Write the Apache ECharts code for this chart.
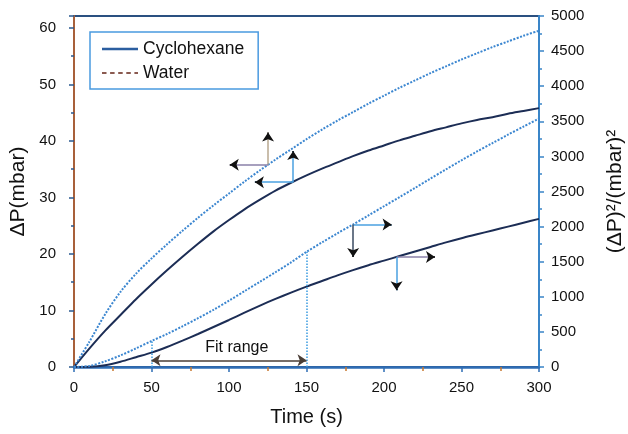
<!DOCTYPE html>
<html>
<head>
<meta charset="utf-8">
<script src="https://cdn.jsdelivr.net/npm/echarts@6/dist/echarts.min.js"></script>
<style>html,body{margin:0;padding:0;background:#fff;}#c{width:628px;height:434px;}</style>
</head>
<body>
<div id="c"></div>
<script>
// ---- data ----
const times      = [0, 10, 20, 30, 40, 50, 60, 70, 80, 90, 100, 110, 120, 130, 140, 150, 160, 170, 180, 190, 200, 210, 220, 230, 240, 250, 260, 270, 280, 290, 300];
const cycloDP    = [0, 3.3, 6.4, 9.2, 12.0, 14.6, 17.1, 19.5, 21.8, 24.0, 26.0, 27.9, 29.6, 31.2, 32.6, 33.9, 35.1, 36.2, 37.3, 38.3, 39.2, 40.1, 40.9, 41.7, 42.4, 43.1, 43.7, 44.2, 44.8, 45.3, 45.8];
const waterDP    = [0, 4.5, 9.3, 13.3, 16.5, 19.2, 21.7, 24.1, 26.4, 28.6, 30.7, 32.8, 34.8, 36.7, 38.5, 40.3, 42.0, 43.6, 45.1, 46.6, 48.0, 49.4, 50.7, 52.0, 53.2, 54.4, 55.5, 56.6, 57.6, 58.6, 59.5];
const cycloDP2   = [0, 3, 25, 75, 140, 205, 285, 375, 470, 570, 670, 775, 875, 970, 1060, 1145, 1225, 1305, 1380, 1450, 1515, 1580, 1645, 1710, 1775, 1835, 1890, 1945, 2000, 2055, 2110];
const waterDP2   = [0, 15, 80, 165, 265, 370, 470, 580, 695, 815, 945, 1080, 1215, 1350, 1490, 1640, 1775, 1905, 2030, 2160, 2290, 2420, 2550, 2685, 2815, 2945, 3070, 3190, 3310, 3425, 3540];
const xTicks     = [0, 50, 100, 150, 200, 250, 300];
const leftTicks  = [0, 10, 20, 30, 40, 50, 60];
const rightTicks = [0, 500, 1000, 1500, 2000, 2500, 3000, 3500, 4000, 4500, 5000];
const fitRange   = [50, 150];
// annotation arrows in data coordinates: [junction, end1, end2]
const arrowWaterDP  = [[125.2, 35.8], [125.2, 41.5], [100.5, 35.8]];
const arrowCycloDP  = [[141.4, 32.7], [141.4, 38.2], [116.7, 32.7]];
const arrowWaterDP2 = [[180.1, 2030], [204.9, 2030], [180.1, 1567]];
const arrowCycloDP2 = [[208.1, 1568], [232.9, 1568], [208.1, 1093]];

const zip = (a, b) => a.map((t, i) => [t, b[i]]);
const valAt = (arr, t) => arr[times.indexOf(t)];

function arrow(from, to, color) {
  const near = [to[0] - 0.04 * (to[0] - from[0]), to[1] - 0.04 * (to[1] - from[1])];
  return [
    [{coord: from, symbol: 'none', lineStyle: {color: color, width: 1.5, type: 'solid'}}, {coord: to, symbol: 'none'}],
    [{coord: near, symbol: 'none', lineStyle: {color: '#111', width: 1.5, type: 'solid'}}, {coord: to, symbol: 'arrow'}]
  ];
}
function arrowSet(a, c1, c2) {
  return arrow(a[0], a[1], c1).concat(arrow(a[0], a[2], c2));
}
const mlBase = {silent: true, animation: false, symbol: ['none', 'none'], symbolSize: 9, label: {show: false}, emphasis: {disabled: true}};

const FONT = '"Liberation Sans", Arial, sans-serif';
const navy = '#1c2d55', dotBlue = '#3b86d0';

const chart = echarts.init(document.getElementById('c'), null, {renderer: 'canvas'});
chart.setOption({
  animation: false,
  backgroundColor: '#fff',
  textStyle: {fontFamily: FONT},
  grid: {left: 74, right: 89, top: 16, bottom: 67, containLabel: false, outerBoundsMode: 'none',
    show: true, borderColor: '#2a5080', borderWidth: 2, backgroundColor: 'transparent'},
  legend: {
    orient: 'vertical', left: 90, top: 32, padding: [8, 14, 7, 12], itemGap: 6, itemWidth: 36, itemHeight: 3,
    borderColor: '#4a9ae0', borderWidth: 1.5, backgroundColor: '#fff',
    textStyle: {fontSize: 17.5, color: '#111', fontFamily: FONT},
    selectedMode: false,
    data: [
      {name: 'Cyclohexane', icon: 'path://M0,0H40V3H0Z', itemStyle: {color: '#2b5ea0'}},
      {name: 'Water', icon: 'path://M0,0H5V2H0Z M9,0H14V2H9Z M18,0H23V2H18Z M27,0H32V2H27Z M36,0H40V2H36Z', itemStyle: {color: '#8a5a50'}}
    ]
  },
  xAxis: {
    type: 'value', min: 0, max: 300, interval: 50,
    name: 'Time (s)', nameLocation: 'middle', nameGap: 40,
    nameTextStyle: {fontSize: 20, color: '#111', fontFamily: FONT},
    axisLine: {show: true, lineStyle: {color: '#2f6db5', width: 2.5}},
    axisTick: {show: true, length: 5, lineStyle: {color: '#2f6db5', width: 1.5}},
    minorTick: {show: true, splitNumber: 2, length: 4, lineStyle: {color: '#c87830', width: 1.5}},
    axisLabel: {fontSize: 15, color: '#111', margin: 13, fontFamily: FONT,
      formatter: v => xTicks.includes(v) ? String(v) : ''},
    splitLine: {show: false}
  },
  yAxis: [
    {
      type: 'value', min: 0, max: 62.1, interval: 10, position: 'left',
      name: 'ΔP(mbar)', nameLocation: 'middle', nameGap: 38, nameRotate: 90,
      nameTextStyle: {fontSize: 21, color: '#111', fontFamily: FONT},
      axisLine: {show: true, onZero: false, lineStyle: {color: '#a8603a', width: 2}},
      axisTick: {show: true, length: 5, lineStyle: {color: '#2a5a90', width: 1.5}},
      minorTick: {show: true, splitNumber: 2, length: 3, lineStyle: {color: '#2a5a90', width: 1.5}},
      axisLabel: {fontSize: 15, color: '#111', margin: 18, showMaxLabel: false, fontFamily: FONT,
        formatter: v => leftTicks.includes(v) ? String(v) : ''},
      splitLine: {show: false}
    },
    {
      type: 'value', min: 0, max: 5000, interval: 500, position: 'right',
      name: '(ΔP)²/(mbar)²', nameLocation: 'middle', nameGap: 66, nameRotate: 90,
      nameTextStyle: {fontSize: 21, color: '#111', fontFamily: FONT},
      axisLine: {show: true, onZero: false, lineStyle: {color: '#3a85c8', width: 2}},
      axisTick: {show: true, length: 5, lineStyle: {color: '#3a85c8', width: 1.5}},
      minorTick: {show: true, splitNumber: 2, length: 3, lineStyle: {color: '#3a85c8', width: 1.5}},
      axisLabel: {fontSize: 15, color: '#111', margin: 12, fontFamily: FONT,
        formatter: v => rightTicks.includes(v) ? String(v) : ''},
      splitLine: {show: false}
    }
  ],
  series: [
    {
      name: 'Cyclohexane', type: 'line', yAxisIndex: 0, data: zip(times, cycloDP),
      symbol: 'none', smooth: 0.3,
      lineStyle: {color: navy, width: 2}, itemStyle: {color: navy},
      markLine: Object.assign({}, mlBase, {data: arrowSet(arrowCycloDP, '#4aa0e0', '#4aa0e0')})
    },
    {
      name: 'Water', type: 'line', yAxisIndex: 0, data: zip(times, waterDP),
      symbol: 'none', smooth: 0.3,
      lineStyle: {color: dotBlue, width: 2, type: [2, 1.5]}, itemStyle: {color: dotBlue},
      markLine: Object.assign({}, mlBase, {data: arrowSet(arrowWaterDP, '#b8a890', '#8a80a8')})
    },
    {
      name: 'Cyclohexane', type: 'line', yAxisIndex: 1, data: zip(times, cycloDP2),
      symbol: 'none', smooth: 0.3,
      lineStyle: {color: navy, width: 2}, itemStyle: {color: navy},
      markLine: Object.assign({}, mlBase, {data: arrowSet(arrowCycloDP2, '#8a80a8', '#4aa0e0')})
    },
    {
      name: 'Water', type: 'line', yAxisIndex: 1, data: zip(times, waterDP2),
      symbol: 'none', smooth: 0.3,
      lineStyle: {color: dotBlue, width: 2, type: [2, 1.5]}, itemStyle: {color: dotBlue},
      markLine: Object.assign({}, mlBase, {data: arrowSet(arrowWaterDP2, '#4aa0e0', '#3a4a60').concat([
        [{coord: [fitRange[0], 0], symbol: 'none', lineStyle: {color: '#3a9ae0', width: 1.5, type: 'dotted'}}, {coord: [fitRange[0], valAt(waterDP2, fitRange[0])], symbol: 'none'}],
        [{coord: [fitRange[1], 0], symbol: 'none', lineStyle: {color: '#3a9ae0', width: 1.5, type: 'dotted'}}, {coord: [fitRange[1], valAt(waterDP2, fitRange[1])], symbol: 'none'}],
        [{coord: [fitRange[0], 95], symbol: 'arrow', lineStyle: {color: '#4a3e36', width: 1.5, type: 'solid'}}, {coord: [fitRange[1], 95], symbol: 'arrow'}]
      ])}),
      markPoint: {
        silent: true, animation: false,
        data: [{coord: [105, 270], symbol: 'circle', symbolSize: 0,
          label: {show: true, position: 'inside', formatter: 'Fit range', fontSize: 16, color: '#111', fontFamily: FONT}}]
      }
    }
  ]
});
</script>
</body>
</html>
